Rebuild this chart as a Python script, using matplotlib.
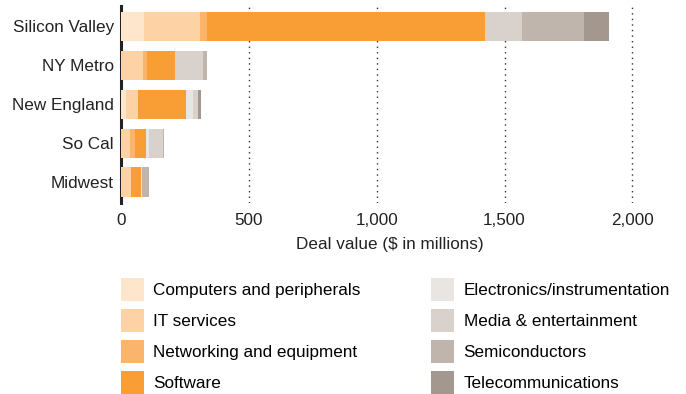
import matplotlib
matplotlib.use("Agg")
import matplotlib.pyplot as plt
from matplotlib.patches import Patch
import numpy as np

plt.rcParams['font.family'] = ['Liberation Sans', 'DejaVu Sans']

regions = ["Silicon Valley", "NY Metro", "New England", "So Cal", "Midwest"]
sectors = ["Computers and peripherals", "IT services", "Networking and equipment", "Software",
           "Electronics/instrumentation", "Media & entertainment", "Semiconductors", "Telecommunications"]
computers = [90, 0, 20, 0, 0]
it_services = [220, 86, 47, 35, 39]
networking = [27, 16, 0, 20, 0]
software = [1086, 110, 188, 43, 39]
electronics = [0, 0, 27, 12, 5]
media = [145, 109, 20, 56, 0]
semis = [243, 17, 0, 4, 27]
telecom = [98, 0, 12, 0, 0]
series = [computers, it_services, networking, software, electronics, media, semis, telecom]
colors = ["#FEE6CC", "#FDD2A5", "#FBB46C", "#F99D35", "#E9E5E2", "#D9D1CB", "#C0B5AC", "#A4978D"]
xticks = [0, 500, 1000, 1500, 2000]
xticklabels = ["0", "500", "1,000", "1,500", "2,000"]

FS = 12.3
fig = plt.figure(figsize=(6.86, 3.94), dpi=100)
ax = fig.add_axes([121/686, 1-203/394, 537/686, 197/394])

y = np.arange(len(regions))
left = np.zeros(len(regions))
for vals, c, name in zip(series, colors, sectors):
    ax.barh(y, vals, left=left, height=0.75, color=c, label=name, zorder=3)
    left += np.array(vals)

ax.set_ylim(4.54, -0.527)
ax.set_xlim(0, 2100)
ax.set_xticks(xticks)
ax.set_xticklabels(xticklabels, fontsize=FS, color="#222222")
ax.set_yticks(y)
ax.set_yticklabels(regions, fontsize=FS, color="#222222")
ax.tick_params(axis='y', length=0, pad=5)
ax.tick_params(axis='x', length=0, pad=7.4)
for s in ["top", "right", "bottom"]:
    ax.spines[s].set_visible(False)
ax.spines["left"].set_linewidth(2.2)
ax.spines["left"].set_color("#222222")
ax.xaxis.grid(True, linestyle=(0, (1, 3)), color="#333333", linewidth=1, zorder=0)
ax.set_xlabel("Deal value ($ in millions)", fontsize=FS, color="#222222", labelpad=6.6)

handles = [Patch(facecolor=c, edgecolor="none") for c in colors]
fig.legend(handles, sectors, ncol=2, loc="upper left", bbox_to_anchor=(121/686, 1-278/394),
           frameon=False, fontsize=FS, handlelength=1.346, handleheight=1.694,
           labelspacing=0.468, handletextpad=0.53, columnspacing=4.16, borderaxespad=0, borderpad=0)

fig.savefig("out.png", dpi=100)
